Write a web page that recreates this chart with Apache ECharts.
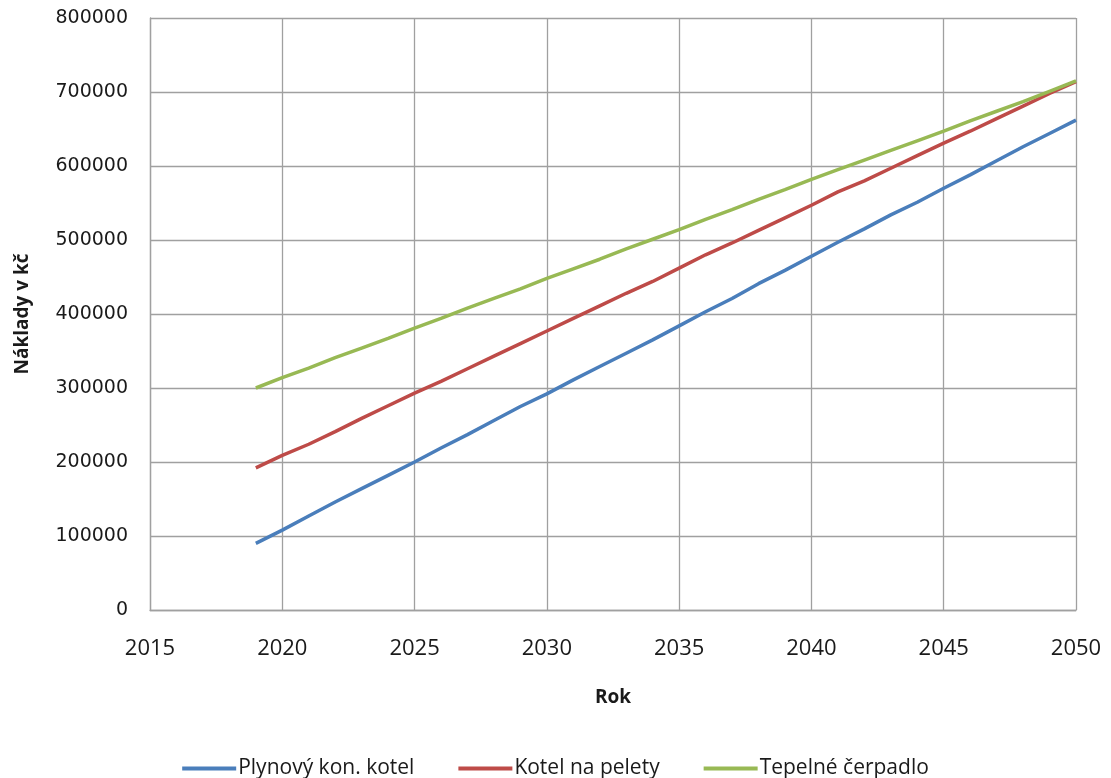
<!DOCTYPE html>
<html>
<head>
<meta charset="utf-8">
<script src="https://cdn.jsdelivr.net/npm/echarts@6/dist/echarts.min.js"></script>
<style>
  html, body { margin: 0; padding: 0; background: #ffffff; }
  #chart { width: 1111px; height: 778px; }
</style>
</head>
<body>
<div id="chart"></div>
<script>
// Yearly cumulative heating costs (CZK), 2019–2050
const years = [2019, 2020, 2021, 2022, 2023, 2024, 2025, 2026, 2027, 2028, 2029, 2030,
               2031, 2032, 2033, 2034, 2035, 2036, 2037, 2038, 2039, 2040, 2041, 2042,
               2043, 2044, 2045, 2046, 2047, 2048, 2049, 2050];

const plynovyKotel = [90000, 108000, 127000, 146000, 164000, 182000, 200000, 219000,
                      237000, 256000, 275000, 292000, 311000, 329000, 347000, 365000,
                      384000, 403000, 421000, 441000, 459000, 478000, 497000, 515000,
                      534000, 551000, 570000, 588000, 607000, 626000, 644000, 662000];

const kotelPelety = [192000, 209000, 224000, 241000, 259000, 276000, 293000, 309000,
                     326000, 343000, 360000, 377000, 394000, 411000, 428000, 444000,
                     462000, 480000, 496000, 513000, 530000, 547000, 565000, 580000,
                     597000, 614000, 631000, 647000, 664000, 681000, 698000, 714000];

const tepelneCerpadlo = [300000, 314000, 327000, 341000, 354000, 367000, 381000, 394000,
                         408000, 421000, 434000, 448000, 461000, 474000, 488000, 501000,
                         514000, 528000, 541000, 555000, 568000, 582000, 595000, 608000,
                         621000, 634000, 647000, 661000, 674000, 687000, 701000, 715000];

const seriesNames = ['Plynový kon. kotel', 'Kotel na pelety', 'Tepelné čerpadlo'];
const seriesValues = [plynovyKotel, kotelPelety, tepelneCerpadlo];
const seriesColors = ['#4A7EBB', '#BE4B48', '#98B954'];

const gridColor = '#A0A0A0';
const textColor = '#1a1a1a';

const chart = echarts.init(document.getElementById('chart'), null, { renderer: 'canvas' });

chart.setOption({
  backgroundColor: '#ffffff',
  animation: false,
  grid: { left: 150, right: 35, top: 18, bottom: 168, containLabel: false },
  legend: {
    data: seriesNames,
    left: 'center',
    top: 753,
    icon: 'rect',
    itemWidth: 54,
    itemHeight: 4,
    itemGap: 44,
    textStyle: { fontFamily: 'Open Sans', fontSize: 21, color: textColor, padding: [0, 0, 0, -3] }
  },
  xAxis: {
    type: 'value',
    min: 2015,
    max: 2050,
    interval: 5,
    name: 'Rok',
    nameLocation: 'middle',
    nameGap: 78,
    nameTextStyle: { fontFamily: 'Open Sans', fontWeight: 'bold', fontSize: 19, color: textColor },
    axisLine: { show: true, onZero: false, lineStyle: { color: gridColor, width: 1.3 } },
    axisTick: { show: false },
    axisLabel: {
      fontFamily: 'Open Sans', fontSize: 22, color: textColor, margin: 28,
      formatter: (v) => String(v)
    },
    splitLine: { show: true, lineStyle: { color: gridColor, width: 1.3 } }
  },
  yAxis: {
    type: 'value',
    min: 0,
    max: 800000,
    interval: 100000,
    name: 'Náklady v kč',
    nameLocation: 'middle',
    nameGap: 118,
    nameTextStyle: { fontFamily: 'Open Sans', fontWeight: 'bold', fontSize: 19, color: textColor },
    axisLine: { show: true, lineStyle: { color: gridColor, width: 1.3 } },
    axisTick: { show: false },
    axisLabel: {
      fontFamily: 'DejaVu Sans', fontSize: 19, color: textColor, margin: 22,
      formatter: (v) => String(v)
    },
    splitLine: { show: true, lineStyle: { color: gridColor, width: 1.3 } }
  },
  series: seriesNames.map((name, k) => ({
    name: name,
    type: 'line',
    data: years.map((yr, i) => [yr, seriesValues[k][i]]),
    showSymbol: false,
    symbol: 'none',
    lineStyle: { color: seriesColors[k], width: 3.5 },
    itemStyle: { color: seriesColors[k] }
  }))
});
</script>
</body>
</html>
